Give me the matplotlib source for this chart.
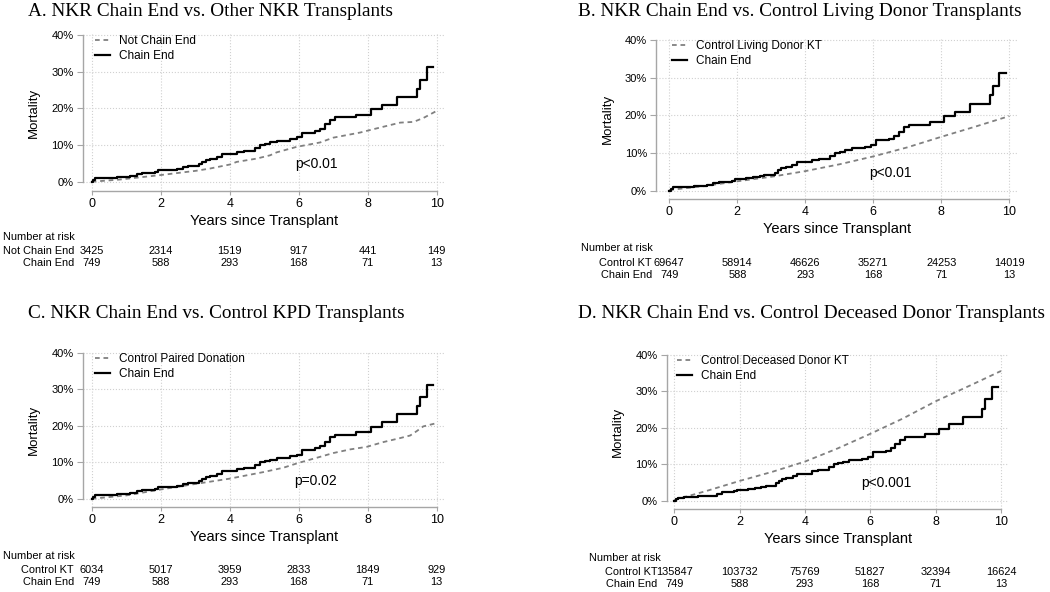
import matplotlib.pyplot as plt
from matplotlib.ticker import FuncFormatter
from matplotlib.transforms import blended_transform_factory

plt.rcParams['font.family'] = ['Liberation Sans', 'DejaVu Sans']

W, H = 1050, 592

# Chain End (same curve in all four panels), years / cumulative mortality in %
chain_t = [0, 0.05, 0.1, 0.3, 0.72, 1.1, 1.3, 1.45, 1.84, 1.93, 2.27, 2.46, 2.66, 2.8,
           3.12, 3.2, 3.3, 3.43, 3.62, 3.77, 4.2, 4.4, 4.73, 4.88, 5.02, 5.17, 5.36,
           5.75, 5.94, 6.09, 6.47, 6.62, 6.76, 6.91, 7.05, 7.66, 8.09, 8.40, 8.84,
           9.42, 9.51, 9.71, 9.90]
chain_m = [0, 0.5, 0.9, 1.1, 1.35, 1.5, 2.0, 2.4, 2.7, 3.1, 3.3, 3.6, 3.9, 4.25,
           4.8, 5.4, 5.9, 6.3, 6.8, 7.5, 8.1, 8.5, 9.2, 10.0, 10.4, 10.7, 11.2,
           11.6, 12.1, 13.4, 13.8, 14.5, 15.6, 16.8, 17.5, 18.3, 19.7, 21.0, 23.1,
           25.3, 27.8, 31.2, 31.2]

# comparison groups
notchain_t = [0, 0.82, 1.98, 3.04, 3.43, 4.01, 4.2, 4.78, 5.17, 5.36, 5.94, 6.62, 7.0,
              7.39, 7.78, 8.16, 8.55, 8.94, 9.33, 9.62, 9.98]
notchain_m = [0, 0.6, 1.8, 3.0, 3.6, 4.7, 5.4, 6.3, 7.2, 8.0, 9.5, 10.7, 12.0,
              12.7, 13.4, 14.3, 15.2, 16.1, 16.3, 17.4, 19.2]

living_t = [0, 1, 2, 3, 4, 5, 6, 7, 8, 9, 10]
living_m = [0.2, 1.2, 2.5, 3.7, 5.2, 7.0, 9.1, 11.5, 14.3, 17.0, 19.8]

kpd_t = [0, 1.0, 1.98, 3.04, 4.0, 4.98, 5.56, 5.99, 6.52, 7.0, 7.49, 7.97, 8.45,
         8.94, 9.23, 9.42, 9.61, 10.0]
kpd_m = [0, 0.9, 2.5, 4.1, 5.5, 7.3, 8.5, 9.8, 11.2, 12.5, 13.5, 14.2, 15.5,
         16.6, 17.3, 18.5, 19.8, 20.7]

deceased_t = [0, 1, 2, 3, 4, 5, 6, 7, 8, 9, 10]
deceased_m = [0.3, 2.8, 5.5, 8.0, 10.8, 14.4, 18.4, 22.6, 27.3, 31.4, 35.6]

# number at risk
risk_years = [0, 2, 4, 6, 8, 10]
chain_risk = [749, 588, 293, 168, 71, 13]
notchain_risk = [3425, 2314, 1519, 917, 441, 149]
living_risk = [69647, 58914, 46626, 35271, 24253, 14019]
kpd_risk = [6034, 5017, 3959, 2833, 1849, 929]
deceased_risk = [135847, 103732, 75769, 51827, 32394, 16624]

titles = ["A. NKR Chain End vs. Other NKR Transplants",
          "B. NKR Chain End vs. Control Living Donor Transplants",
          "C. NKR Chain End vs. Control KPD Transplants",
          "D. NKR Chain End vs. Control Deceased Donor Transplants"]
ref_labels = ["Not Chain End", "Control Living Donor KT",
              "Control Paired Donation", "Control Deceased Donor KT"]
risk_labels = ["Not Chain End", "Control KT", "Control KT", "Control KT"]
p_values = ["p<0.01", "p<0.01", "p=0.02", "p<0.001"]

ref_t = [notchain_t, living_t, kpd_t, deceased_t]
ref_m = [notchain_m, living_m, kpd_m, deceased_m]
ref_risk = [notchain_risk, living_risk, kpd_risk, deceased_risk]

# pixel geometry: axes left/right/top/bottom, x of year 0 and 10, y of 0% and 40%
geom = [
    dict(l=82.7, r=445, t=34.3, b=190.7, x0=91.7, x10=436.7, y0=181.7, y40=34.3,
         title=(28, 11), leg=(95, 41.7), risk=(3, 237, 74, 251, 263)),
    dict(l=656, r=1018, t=39.3, b=199.3, x0=669.3, x10=1009.3, y0=190.7, y40=39.3,
         title=(578, 11), leg=(672, 46.7), risk=(581, 248, 652, 263, 275)),
    dict(l=82.7, r=445, t=352, b=507, x0=91.7, x10=436.7, y0=498.7, y40=352,
         title=(28, 314), leg=(95, 359.3), risk=(3, 556, 74, 570, 581.7)),
    dict(l=666.7, r=1009, t=354.3, b=509, x0=674.3, x10=1001, y0=501, y40=354.3,
         title=(578, 314), leg=(677, 361.3), risk=(589, 558, 657.7, 572, 584)),
]

spine_col = '#a6a6a6'
grid_col = '#d0d0d0'
dash_col = '#808080'

fig = plt.figure(figsize=(W / 100, H / 100), dpi=100)

for i, g in enumerate(geom):
    ax = fig.add_axes([g['l'] / W, 1 - g['b'] / H, (g['r'] - g['l']) / W, (g['b'] - g['t']) / H])
    xs = (g['x10'] - g['x0']) / 10
    ys = (g['y0'] - g['y40']) / 0.4
    ax.set_xlim((g['l'] - g['x0']) / xs, (g['r'] - g['x0']) / xs)
    ax.set_ylim(-(g['b'] - g['y0']) / ys, 0.4 + 0.6 / ys)

    ref_line, = ax.plot(ref_t[i], [v / 100 for v in ref_m[i]], color=dash_col, lw=1.3,
                        linestyle=(0, (2.6, 2.1)))
    chain_line, = ax.plot(chain_t, [v / 100 for v in chain_m], color='black', lw=1.6,
                          drawstyle='steps-post')

    ax.set_xticks(risk_years)
    ax.set_yticks([0, 0.1, 0.2, 0.3, 0.4])
    ax.yaxis.set_major_formatter(FuncFormatter(lambda v, _: f"{v * 100:.0f}%"))
    ax.grid(True, linestyle=':', color=grid_col, lw=0.8)
    ax.set_axisbelow(True)
    for s in ['top', 'right']:
        ax.spines[s].set_visible(False)
    ax.spines['left'].set_bounds(0, 0.4)
    ax.spines['bottom'].set_bounds(0, 10)
    for s in ['left', 'bottom']:
        ax.spines[s].set_color(spine_col)
        ax.spines[s].set_linewidth(1.0)
    ax.tick_params(axis='y', direction='out', length=4.5, width=0.8, color=spine_col,
                   labelsize=8, pad=2)
    ax.tick_params(axis='x', direction='out', length=3, width=0.8, color=spine_col,
                   labelsize=9, pad=2)
    ax.set_ylabel("Mortality", fontsize=9.5, labelpad=8)
    ax.set_xlabel("Years since Transplant", fontsize=10.5, labelpad=3)

    ax.text(6.5, 0.048, p_values[i], fontsize=10, ha='center', va='center')

    lx, ly = g['leg']
    ax.legend([ref_line, chain_line], [ref_labels[i], "Chain End"], loc='upper left',
              bbox_to_anchor=(lx / W, 1 - (ly - 6.5) / H), bbox_transform=fig.transFigure,
              frameon=False, borderpad=0, borderaxespad=0, handlelength=1.25,
              handletextpad=0.8, labelspacing=0.25, fontsize=8.5)

    tx, ty = g['title']
    fig.text(tx / W, 1 - ty / H, titles[i], family='Liberation Serif', fontsize=13.9,
             ha='left', va='center')

    nx_, ny_, rx, r1, r2 = g['risk']
    fig.text(nx_ / W, 1 - ny_ / H, "Number at risk", fontsize=7.9, ha='left', va='center')
    fig.text(rx / W, 1 - r1 / H, risk_labels[i], fontsize=7.9, ha='right', va='center')
    fig.text(rx / W, 1 - r2 / H, "Chain End", fontsize=7.9, ha='right', va='center')
    tr = blended_transform_factory(ax.transData, fig.transFigure)
    for yr, a, b in zip(risk_years, ref_risk[i], chain_risk):
        ax.text(yr, 1 - r1 / H, str(a), transform=tr, fontsize=7.9, ha='center', va='center')
        ax.text(yr, 1 - r2 / H, str(b), transform=tr, fontsize=7.9, ha='center', va='center')

fig.savefig("out.png", dpi=100, facecolor='white')
